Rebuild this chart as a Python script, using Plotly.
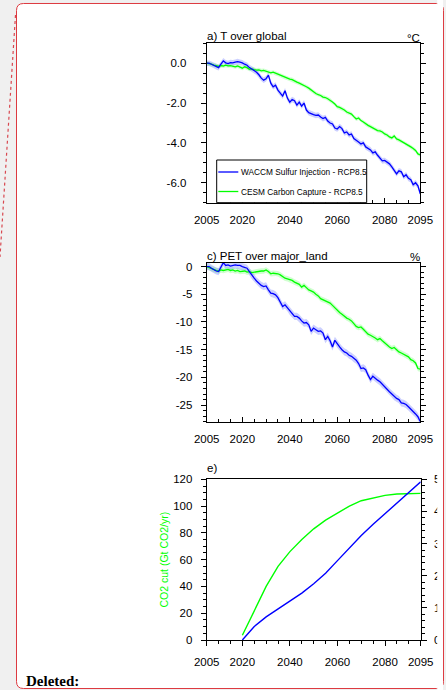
import plotly.graph_objects as go

W, H = 446, 690


def px(x):
    return x / W


def py(y):
    return 1 - y / H


# ---------------- data ----------------
years = list(range(2005, 2096))

# a) global-mean temperature change (degC)
t_waccm = [
    0.00, 0.00, -0.05, -0.10, -0.18, -0.22, -0.05, 0.12, 0.02, -0.02,
    0.03, 0.02, 0.05, 0.08, 0.05, 0.02, -0.05, -0.10, -0.22, -0.30,
    -0.38, -0.45, -0.58, -0.75, -0.85, -0.78, -0.60, -1.00, -1.18, -1.10,
    -1.35, -1.50, -1.65, -1.38, -1.75, -1.95, -1.82, -1.88, -2.10, -1.95,
    -2.15, -2.00, -2.35, -2.48, -2.55, -2.58, -2.62, -2.60, -2.70, -2.78,
    -2.72, -2.90, -3.00, -3.05, -3.25, -3.30, -3.18, -3.28, -3.50, -3.45,
    -3.60, -3.55, -3.78, -3.85, -3.95, -4.05, -4.00, -4.20, -4.28, -4.35,
    -4.50, -4.45, -4.62, -4.75, -4.90, -4.88, -4.95, -5.05, -5.20, -5.35,
    -5.55, -5.40, -5.45, -5.70, -5.60, -5.78, -5.85, -6.10, -6.00, -6.15,
    -6.55,
]
t_cesm = [
    0.00, -0.02, -0.05, -0.10, -0.12, -0.15, -0.12, -0.14, -0.10, -0.13,
    -0.12, -0.15, -0.18, -0.14, -0.20, -0.25, -0.18, -0.22, -0.30, -0.28,
    -0.32, -0.35, -0.33, -0.38, -0.36, -0.40, -0.42, -0.48, -0.45, -0.52,
    -0.55, -0.60, -0.65, -0.72, -0.75, -0.80, -0.82, -0.90, -0.95, -1.00,
    -1.05, -1.10, -1.18, -1.25, -1.35, -1.45, -1.52, -1.58, -1.62, -1.70,
    -1.72, -1.78, -1.85, -1.95, -2.05, -2.18, -2.22, -2.28, -2.35, -2.45,
    -2.50, -2.55, -2.68, -2.80, -2.75, -2.88, -2.95, -3.05, -3.12, -3.18,
    -3.25, -3.30, -3.38, -3.40, -3.45, -3.55, -3.60, -3.70, -3.75, -3.65,
    -3.80, -3.85, -3.92, -3.95, -4.05, -4.12, -4.20, -4.28, -4.38, -4.55,
    -4.60,
]

# c) potential evapotranspiration change over major land (%)
pet_waccm = [
    0.0, 0.0, -0.3, -0.6, -0.8, -0.9, -0.2, 0.7, 0.2, 0.3,
    0.1, 0.2, 0.3, 0.2, 0.2, 0.0, -0.1, -0.3, -0.9, -1.6,
    -2.1, -2.6, -3.0, -3.4, -3.6, -3.5, -4.2, -4.8, -4.9, -5.1,
    -5.6, -6.3, -7.2, -6.9, -7.4, -8.1, -8.6, -9.0, -9.0, -9.3,
    -9.8, -10.2, -10.1, -10.5, -11.7, -11.1, -11.4, -11.7, -11.6, -12.0,
    -13.2, -12.6, -13.4, -14.5, -13.3, -14.0, -14.5, -15.0, -15.4, -15.6,
    -16.0, -16.2, -16.6, -16.9, -17.5, -18.4, -18.3, -18.6, -19.6, -20.4,
    -19.8, -20.2, -20.5, -20.8, -21.3, -21.6, -22.1, -22.6, -23.0, -23.5,
    -23.8, -24.0, -24.6, -24.7, -24.9, -25.3, -25.7, -26.2, -26.6, -27.1,
    -28.0,
]
pet_cesm = [
    0.0, -0.2, -0.4, -0.5, -0.7, -0.8, -0.6, -0.7, -0.6, -0.5,
    -0.7, -0.6, -0.8, -0.7, -0.9, -0.9, -0.8, -1.0, -0.9, -1.1,
    -1.0, -0.9, -0.9, -0.8, -0.8, -0.6, -0.9, -1.3, -1.2, -1.2,
    -1.3, -1.5, -1.8, -2.1, -2.2, -2.3, -2.5, -2.8, -3.0, -3.2,
    -3.7, -3.4, -3.8, -4.2, -4.4, -4.6, -5.0, -5.3, -5.8, -6.0,
    -6.1, -6.4, -6.6, -7.0, -7.5, -8.0, -8.3, -8.6, -9.0, -9.3,
    -9.5, -9.8, -10.3, -10.8, -11.0, -10.9, -11.3, -11.8, -12.2, -12.4,
    -12.6, -12.9, -13.2, -13.0, -13.4, -13.8, -14.2, -14.5, -14.8, -14.6,
    -15.0, -15.4, -15.6, -15.8, -16.0, -16.3, -16.8, -17.0, -17.4, -18.4,
    -18.5,
]

# ensemble half-spread used for the shaded envelopes
t_spread_waccm = 0.14
t_spread_cesm = 0.10
pet_spread_waccm = 0.65
pet_spread_cesm = 0.5

# e) cumulative mitigation
cut_years = [2020, 2025, 2030, 2035, 2040, 2045, 2050, 2055, 2060,
             2065, 2070, 2075, 2080, 2085, 2090, 2095]
co2_cut = [3.5, 22, 40, 55, 66, 75, 83, 89.5, 95,
           100, 104, 106, 108, 109, 109.5, 109.5]
injection = [0.0, 0.42, 0.72, 0.97, 1.2, 1.46, 1.75, 2.08, 2.47,
             2.87, 3.25, 3.6, 3.93, 4.26, 4.59, 4.92]

xtick_vals = [2005, 2020, 2040, 2060, 2080, 2095]
t_ticks = [-6, -4, -2, 0]
t_ticktext = ["-6.0", "-4.0", "-2.0", "0.0"]
pet_ticks = [-25, -20, -15, -10, -5, 0]
cut_ticks = [0, 20, 40, 60, 80, 100, 120]
inj_ticks = [0, 1, 2, 3, 4, 5]

series_names = ["WACCM Sulfur Injection - RCP8.5", "CESM Carbon Capture - RCP8.5"]

# ---------------- styling ----------------
BLUE = "#0000ff"
GREEN = "#00ff00"
BAND_BLUE = "rgba(110,120,255,0.35)"
BAND_GREEN = "rgba(110,255,110,0.32)"
FONT = "Liberation Sans, Arial, Helvetica, sans-serif"
TICKFONT = dict(family=FONT, size=11.5, color="black")

X0, X1 = 206.7, 420.3

fig = go.Figure()


def add_band(vals, spread, color, xa, ya):
    upper = [v + spread for v in vals]
    lower = [v - spread for v in vals]
    fig.add_trace(go.Scatter(
        x=years + years[::-1], y=upper + lower[::-1],
        fill="toself", fillcolor=color, line=dict(width=0),
        mode="lines", hoverinfo="skip", xaxis=xa, yaxis=ya))


def add_line(x, vals, color, xa, ya, width=1.3):
    fig.add_trace(go.Scatter(
        x=x, y=vals, mode="lines", line=dict(color=color, width=width),
        xaxis=xa, yaxis=ya))


# panel a
add_band(t_cesm, t_spread_cesm, BAND_GREEN, "x", "y")
add_band(t_waccm, t_spread_waccm, BAND_BLUE, "x", "y")
add_line(years, t_cesm, GREEN, "x", "y")
add_line(years, t_waccm, BLUE, "x", "y")

# panel c
add_band(pet_cesm, pet_spread_cesm, BAND_GREEN, "x2", "y2")
add_band(pet_waccm, pet_spread_waccm, BAND_BLUE, "x2", "y2")
add_line(years, pet_cesm, GREEN, "x2", "y2")
add_line(years, pet_waccm, BLUE, "x2", "y2")

# panel e
add_line(cut_years, co2_cut, GREEN, "x3", "y3", 1.4)
add_line(cut_years, injection, BLUE, "x3", "y4", 1.4)


def xaxis(y_bottom, anchor, ticks_dir, x1=X1):
    return dict(
        domain=[px(X0), px(x1)], range=[2005, 2095], anchor=anchor,
        tickmode="array", tickvals=xtick_vals, ticks=ticks_dir, ticklen=5,
        tickwidth=1, tickcolor="black", showline=True, linecolor="black",
        linewidth=1, mirror=True, showgrid=False, zeroline=False,
        tickfont=TICKFONT, ticklabelstandoff=6, automargin=False,
        minor=dict(ticks=ticks_dir, ticklen=3, tick0=2005, dtick=5,
                   tickcolor="black", tickwidth=1, showgrid=False),
    )


def yaxis(top, bottom, rng, tickvals, ticktext, minor_dtick, anchor,
          standoff, mirror="ticks"):
    return dict(
        domain=[py(bottom), py(top)], range=rng, anchor=anchor,
        tickmode="array", tickvals=tickvals, ticktext=ticktext,
        ticks="outside", ticklen=5, tickwidth=1, tickcolor="black",
        showline=True, linecolor="black", linewidth=1, mirror=mirror,
        showgrid=False, zeroline=False, tickfont=TICKFONT,
        ticklabelstandoff=standoff, automargin=False,
        minor=dict(ticks="outside", ticklen=3, tick0=0, dtick=minor_dtick,
                   tickcolor="black", tickwidth=1, showgrid=False),
    )


layout = dict(
    width=W, height=H,
    margin=dict(l=0, r=0, t=0, b=0, pad=0, autoexpand=False),
    paper_bgcolor="#f0f0f0", plot_bgcolor="white", showlegend=False,
    xaxis=xaxis(202.7, "y", "inside"),
    yaxis=yaxis(43.3, 202.7, [-7, 1], t_ticks, t_ticktext, 0.5, "x", 12),
    xaxis2=xaxis(421.7, "y2", "inside"),
    yaxis2=yaxis(262.7, 421.7, [-28, 0.7], pet_ticks,
                 [str(v) for v in pet_ticks], 1, "x2", 6),
    xaxis3=xaxis(640, "y3", "outside", 420.7),
    yaxis3=yaxis(479.3, 640, [0, 120], cut_ticks,
                 [str(v) for v in cut_ticks], 5, "x3", 6, mirror=False),
)
layout["yaxis4"] = dict(
    overlaying="y3", side="right", anchor="x3", range=[0, 5],
    tickmode="array", tickvals=inj_ticks, ticktext=[str(v) for v in inj_ticks],
    ticks="outside", ticklen=5, tickwidth=1, tickcolor="black",
    showline=True, linecolor="black", linewidth=1, showgrid=False,
    zeroline=False, tickfont=TICKFONT, ticklabelstandoff=5, automargin=False,
    minor=dict(ticks="outside", ticklen=3, tick0=0, dtick=0.2,
               tickcolor="black", tickwidth=1, showgrid=False),
)
fig.update_layout(**layout)

# page frame: white comment box with rounded red border
L, T, R, B, r = 16.5, 3.5, 443.5, 688.5, 7


def P(x, y):
    return f"{px(x):.5f},{py(y):.5f}"


box_path = (
    f"M {P(L, T + r)} Q {P(L, T)} {P(L + r, T)} L {P(R - r, T)} "
    f"Q {P(R, T)} {P(R, T + r)} L {P(R, B - r)} Q {P(R, B)} {P(R - r, B)} "
    f"L {P(L + r, B)} Q {P(L, B)} {P(L, B - r)} Z"
)
shapes = [
    dict(type="path", xref="paper", yref="paper", path=box_path,
         fillcolor="white", line=dict(color="#dd3a40", width=1), layer="below"),
    # connector from the box toward the text
    dict(type="line", xref="paper", yref="paper",
         x0=px(15.5), y0=py(15), x1=px(0), y1=py(257),
         line=dict(color="#d84850", width=1.2, dash="dot")),
    # image crop on the right edge
    dict(type="rect", xref="paper", yref="paper",
         x0=px(437.2), x1=px(443), y0=py(690), y1=py(0),
         fillcolor="white", line=dict(width=0), layer="above"),
    # legend frame in panel a
    dict(type="rect", xref="paper", yref="paper",
         x0=px(216.7), x1=px(366.7), y0=py(202.7), y1=py(160),
         fillcolor="white", line=dict(color="black", width=1), layer="above"),
    dict(type="line", xref="paper", yref="paper",
         x0=px(218.3), x1=px(238.3), y0=py(172), y1=py(172),
         line=dict(color=BLUE, width=1.3), layer="above"),
    dict(type="line", xref="paper", yref="paper",
         x0=px(218.3), x1=px(238.3), y0=py(191.5), y1=py(191.5),
         line=dict(color=GREEN, width=1.3), layer="above"),
]
fig.update_layout(shapes=shapes)


def note(text, x, y, xanchor="left", yanchor="middle", size=11.5,
         color="black", angle=0, family=FONT):
    fig.add_annotation(
        text=text, xref="paper", yref="paper", x=px(x), y=py(y),
        xanchor=xanchor, yanchor=yanchor, showarrow=False, textangle=angle,
        font=dict(family=family, size=size, color=color), borderpad=0)


note("a) T over global", 205.5, 36.5)
note("°C", 421, 37.5, xanchor="right")
note("c) PET over major_land", 205.5, 255.5)
note("%", 421, 256.5, xanchor="right")
note("e)", 205.5, 468)
note("CO2 cut (Gt CO2/yr)", 163, 559.5, xanchor="center", size=10.5,
     color=GREEN, angle=-90)
note(series_names[0], 239.5, 172, size=8.3)
note(series_names[1], 239.5, 191.5, size=8.3)
note("<b>Deleted:</b>", 24.5, 680.5, size=15,
     family="Liberation Serif, Times New Roman, serif")

# the figure fills the page edge to edge
fig.write_html(
    "out.html",
    post_script="document.body.style.margin='0';"
                "document.body.style.overflow='hidden';",
)
